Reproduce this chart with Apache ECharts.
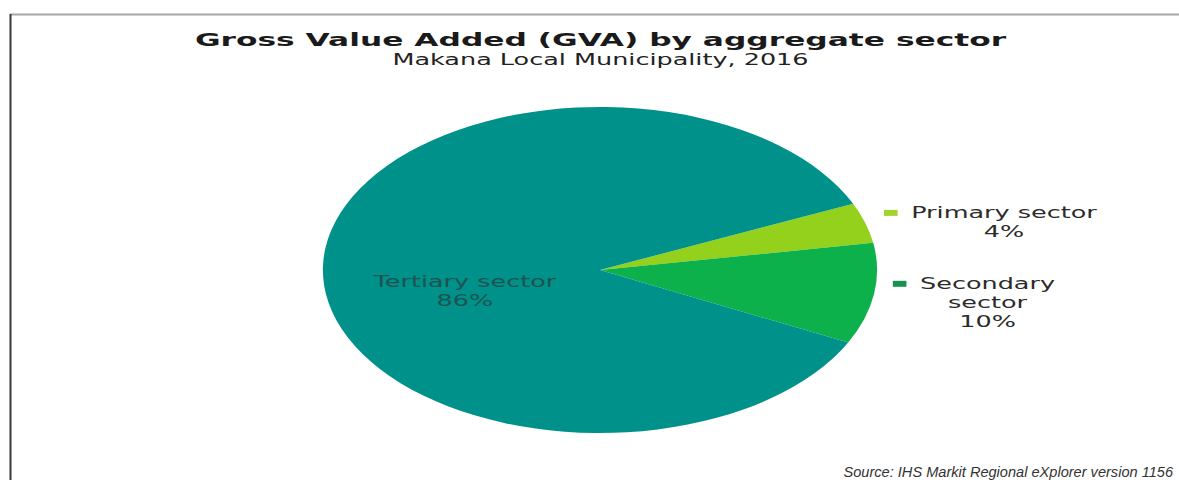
<!DOCTYPE html>
<html>
<head>
<meta charset="utf-8">
<script src="https://cdn.jsdelivr.net/npm/echarts@6/dist/echarts.min.js"></script>
<style>
  html, body { margin: 0; padding: 0; background: #ffffff; overflow: hidden; }
  #stage { width: 1179px; height: 480px; position: relative; overflow: hidden; }
  /* the exported graphic is a widened layout: draw narrow, stretch horizontally */
  #chart { position: absolute; left: 0; top: 0; height: 480px; transform-origin: 0 0; }
</style>
</head>
<body>
<div id="stage"><div id="chart"></div></div>
<script>
// ---- data ----
const categories = ['Primary sector', 'Secondary sector', 'Tertiary sector'];
const shares = [4, 10, 86];            // percent of total GVA
const titleText = 'Gross Value Added (GVA) by aggregate sector';
const subtitleText = 'Makana Local Municipality, 2016';
const sourceText = 'Source: IHS Markit Regional eXplorer version 1156';

// ---- style ----
const sliceColors = ['#93d11c', '#0db14b', '#00918a'];
const markerColors = ['#a2d42e', '#17914f'];
const STRETCH = 1.7;                   // horizontal stretch of the whole graphic
const PAGE_W = 1179;
const FONT = '"DejaVu Sans", Verdana, sans-serif';
const LINE_H = 19;
const WRAP_CHARS = 14;

const chartEl = document.getElementById('chart');
const localW = PAGE_W / STRETCH;
chartEl.style.width = localW + 'px';
chartEl.style.transform = 'scaleX(' + STRETCH + ')';

// break a label into lines of at most maxChars characters on word boundaries
function wrapWords(text, maxChars) {
  const words = text.split(' ');
  const lines = [];
  let cur = '';
  words.forEach(w => {
    const next = cur ? cur + ' ' + w : w;
    if (next.length > maxChars && cur) { lines.push(cur); cur = w; }
    else cur = next;
  });
  if (cur) lines.push(cur);
  return lines;
}

const rich = {
  g: { width: 8 },
  n: { fontFamily: FONT, fontSize: 15, color: '#2b2b2b', lineHeight: LINE_H },
  p: { fontFamily: FONT, fontSize: 15, color: '#2b2b2b', lineHeight: LINE_H, align: 'center', padding: [0, 0, 0, 16] }
};
markerColors.forEach((c, i) => {
  rich['m' + i] = { width: 8, height: 6, backgroundColor: c };
});

const insideIndex = shares.indexOf(Math.max.apply(null, shares));

const pieData = categories.map((name, i) => {
  const item = { name: name, value: shares[i], itemStyle: { color: sliceColors[i] } };
  if (i === insideIndex) {
    item.label = {
      position: 'inside',
      offset: [5, 23],
      align: 'center',
      fontFamily: FONT,
      fontSize: 15,
      lineHeight: LINE_H,
      color: '#1e5350',
      formatter: p => p.name + '\n' + p.value + '%'
    };
  } else {
    // keep the first (marker) line just above the slice's mid point
    const lineCount = wrapWords(name, WRAP_CHARS).length + 1;
    item.label = { offset: [0, (lineCount - 1) * LINE_H / 2 - 10] };
  }
  return item;
});

const chart = echarts.init(chartEl, null, { renderer: 'svg' });

chart.setOption({
  animation: false,
  backgroundColor: '#ffffff',
  title: {
    text: titleText,
    subtext: subtitleText,
    left: 592 / STRETCH,
    top: 26,
    textAlign: 'center',
    itemGap: 3,
    textStyle: { fontFamily: FONT, fontSize: 18.4, fontWeight: 'bold', color: '#1a1a1a' },
    subtextStyle: { fontFamily: FONT, fontSize: 15, color: '#222222' }
  },
  graphic: [
    { type: 'line', shape: { x1: 10 / STRETCH, y1: 14.5, x2: localW, y2: 14.5 },
      style: { stroke: '#a6a6a6', lineWidth: 2 } },
    { type: 'line', shape: { x1: 10.5 / STRETCH, y1: 14, x2: 10.5 / STRETCH, y2: 480 },
      style: { stroke: '#3a3a3a', lineWidth: 1.2 } },
    { type: 'text', x: 1173 / STRETCH, y: 472, scaleX: 1 / STRETCH,
      style: { text: sourceText, fill: '#333333', font: 'italic 14.6px "Liberation Sans", Arial, sans-serif',
               textAlign: 'right', textVerticalAlign: 'middle' } }
  ],
  series: [{
    type: 'pie',
    center: [600 / STRETCH, 270],
    radius: 163,
    startAngle: 24,
    clockwise: true,
    avoidLabelOverlap: false,
    silent: true,
    label: {
      show: true,
      position: 'outside',
      distanceToLabelLine: 5,
      formatter: p => {
        const lines = wrapWords(p.name, WRAP_CHARS);
        let s = '{m' + p.dataIndex + '|}{g|}{n|' + lines[0] + '}';
        for (let k = 1; k < lines.length; k++) s += '\n{p|' + lines[k] + '}';
        s += '\n{p|' + p.value + '%}';
        return s;
      },
      rich: rich
    },
    labelLine: { show: false, length: 0, length2: 6 },
    data: pieData
  }]
});
</script>
</body>
</html>
